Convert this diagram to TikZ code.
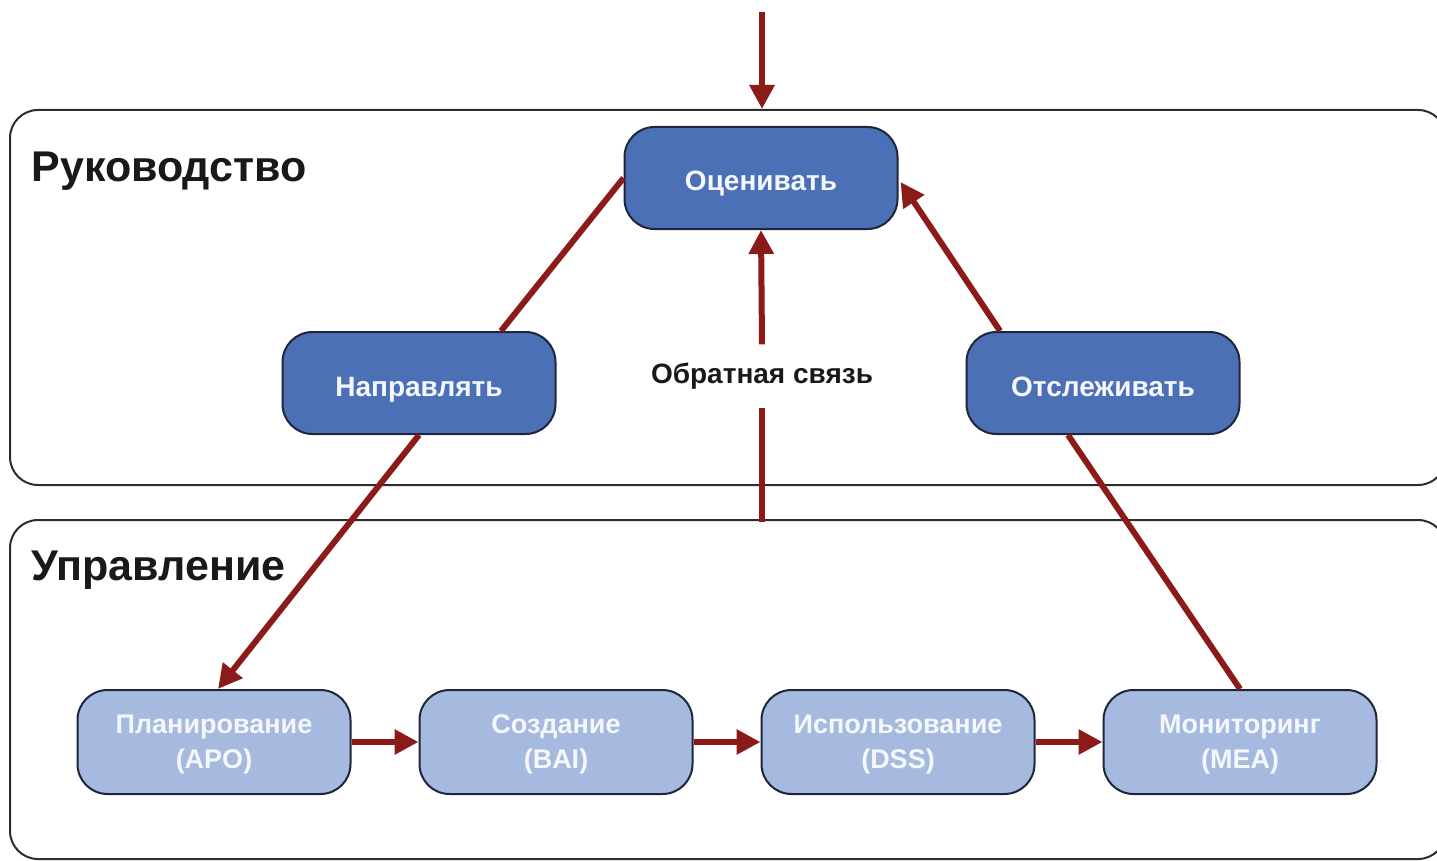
\documentclass[tikz,border=0pt]{standalone}
\usepackage{fontspec}
\setmainfont{Liberation Sans}
\usetikzlibrary{arrows.meta,calc}

\definecolor{arrowred}{RGB}{139,27,24}
\definecolor{darkfill}{RGB}{76,112,182}
\definecolor{lightfill}{RGB}{166,185,222}
\definecolor{nodeline}{RGB}{30,38,60}
\definecolor{framegray}{RGB}{45,45,45}
\definecolor{paletext}{RGB}{244,247,252}

\tikzset{
  region/.style={draw=framegray, line width=2pt, rounded corners=28pt},
  title/.style={anchor=base west, font=\fontsize{43}{50}\selectfont\bfseries, text=black!90},
  govbox/.style={draw=nodeline, line width=2pt, fill=darkfill, rounded corners=30pt,
    minimum width=273pt, minimum height=102pt, inner sep=0pt,
    text height=26pt, text depth=0pt,
    font=\fontsize{28}{32}\selectfont\bfseries, text=paletext},
  mgmtbox/.style={draw=nodeline, line width=2pt, fill=lightfill, rounded corners=30pt,
    minimum width=273pt, minimum height=104pt, inner sep=0pt, align=center,
    text depth=0pt,
    font=\fontsize{27}{35}\selectfont\bfseries, text=paletext},
  flow/.style={draw=arrowred, line width=6pt},
  flowarrow/.style={flow, -{Triangle[length=24pt,width=24pt]}},
}

\begin{document}
\begin{tikzpicture}[x=1pt,y=-1pt]
  \useasboundingbox (0,0) rectangle (1437,861);
  \clip (0,0) rectangle (1437,861);

  % the two layers
  \draw[region] (10,110) rectangle (1446,485);
  \draw[region] (10,520) rectangle (1446,859);
  \node[title] (govtitle) at (28,182) {Руководство};
  \node[title] (mgmttitle) at (28,580) {Управление};

  % governance nodes
  \node[govbox] (eval) at (761,178) {Оценивать};
  \node[govbox] (dir)  at (419,383) {Направлять};
  \node[govbox] (trk)  at (1103,383) {Отслеживать};

  % management nodes
  \node[mgmtbox] (plan) at (214,742) {Планирование\\(APO)};
  \node[mgmtbox] (bld)  at (556,742) {Создание\\(BAI)};
  \node[mgmtbox] (run)  at (898,742) {Использование\\(DSS)};
  \node[mgmtbox] (mon)  at (1240,742) {Мониторинг\\(MEA)};

  % feedback label
  \node[font=\fontsize{28}{32}\selectfont\bfseries, text=black!90, minimum height=63pt, inner sep=0pt]
    (fb) at (762,376) {Обратная связь};

  % connectors
  \coordinate (input) at (762,12);
  \coordinate (govtop) at (762,109);
  \coordinate (mgmttop) at (762,522);

  \draw[flowarrow] (input) -- (govtop);
  \draw[flow] (mgmttop) -- (fb.south);
  \draw[flowarrow] (fb.north) -- (eval.south);

  \draw[flow] ($(dir.north)+(82,0)$) -- (eval.west);
  \draw[flowarrow] (dir.south) -- ($(plan.north)+(4,0)$);
  \draw[flow] (mon.north) -- ($(trk.south)+(-35,0)$);
  \draw[flowarrow] ($(trk.north)+(-103,0)$) -- ($(eval.east)+(2,4)$);

  \draw[flowarrow] (plan.east) -- (bld.west);
  \draw[flowarrow] (bld.east) -- (run.west);
  \draw[flowarrow] (run.east) -- (mon.west);
\end{tikzpicture}
\end{document}
